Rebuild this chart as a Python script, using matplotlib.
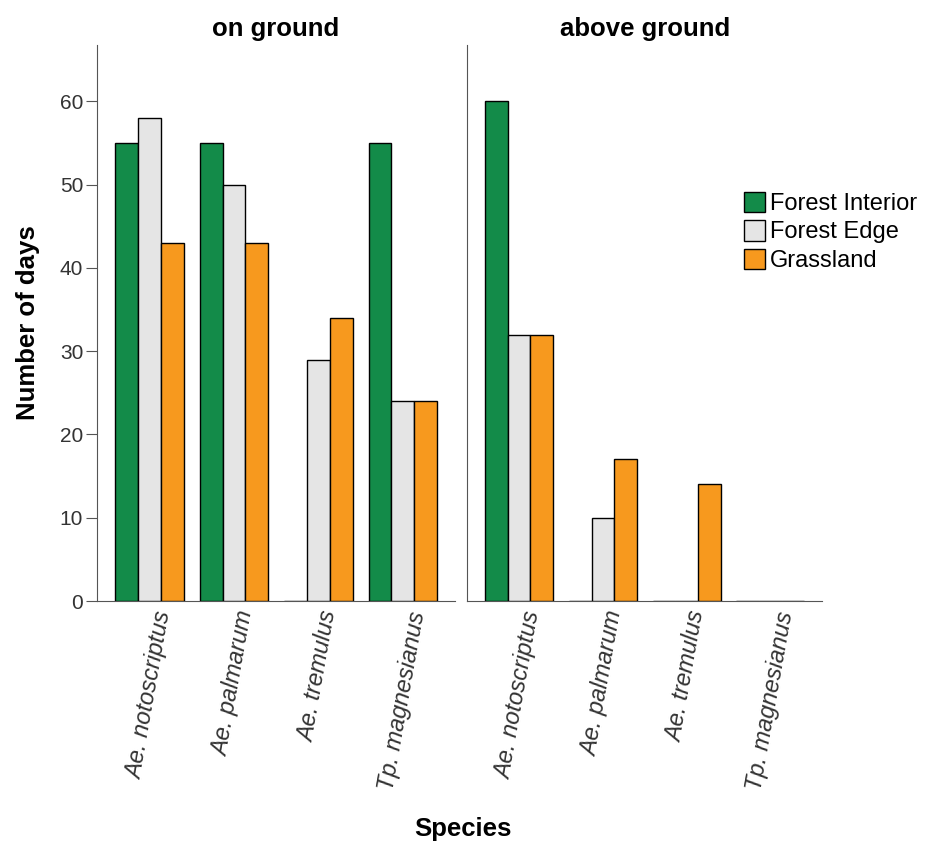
import numpy as np
import matplotlib.pyplot as plt
from matplotlib.patches import Patch

plt.rcParams["font.family"] = ["Liberation Sans", "DejaVu Sans"]

species = ["Ae. notoscriptus", "Ae. palmarum", "Ae. tremulus", "Tp. magnesianus"]
habitats = ["Forest Interior", "Forest Edge", "Grassland"]
colors = ["#138B49", "#E5E5E5", "#F7991E"]

# days per habitat, one list per species order
on_ground = {
    "Forest Interior": [55, 55, 0, 55],
    "Forest Edge": [58, 50, 29, 24],
    "Grassland": [43, 43, 34, 24],
}
above_ground = {
    "Forest Interior": [60, 0, 0, 0],
    "Forest Edge": [32, 10, 0, 0],
    "Grassland": [32, 17, 14, 0],
}

fig = plt.figure(figsize=(9.25, 8.43), dpi=100)
ax1 = fig.add_axes([0.105, 0.287, 0.387, 0.66])
ax2 = fig.add_axes([0.505, 0.287, 0.384, 0.66])

x = np.arange(len(species))
w = 0.27

for ax, data, title in [(ax1, on_ground, "on ground"), (ax2, above_ground, "above ground")]:
    for i, h in enumerate(habitats):
        ax.bar(x + (i - 1) * w, data[h], width=w, color=colors[i],
               edgecolor="black", linewidth=1, zorder=3)
    ax.set_xlim(-0.62, 3.62)
    ax.set_ylim(0, 66.8)
    ax.set_xticks(x)
    ax.set_xticklabels(species, rotation=80, style="italic", fontsize=17,
                       color="#333333", ha="center", va="top")
    ax.tick_params(axis="x", length=0, pad=6)
    ax.spines["top"].set_visible(False)
    ax.spines["right"].set_visible(False)
    ax.spines["left"].set_color("#555555")
    ax.spines["bottom"].set_color("#555555")
    ax.set_title(title, fontsize=18.5, fontweight="bold", pad=6)

ax1.set_yticks(range(0, 61, 10))
ax1.tick_params(axis="y", labelsize=15, labelcolor="#333333", length=8,
                color="#555555", direction="out", pad=2)
ax1.set_ylabel("Number of days", fontsize=18.5, fontweight="bold", labelpad=14)
ax2.set_yticks([])

fig.text(0.5, 0.008, "Species", fontsize=18.5, fontweight="bold", ha="center")

handles = [Patch(facecolor=c, edgecolor="black", label=h) for c, h in zip(colors, habitats)]
fig.legend(handles=handles, loc="upper left", bbox_to_anchor=(0.797, 0.781),
           frameon=False, fontsize=17, handlelength=0.88, handleheight=0.95,
           handletextpad=0.2, labelspacing=0.22, borderaxespad=0, borderpad=0.3)

fig.savefig("out.png", dpi=100)
